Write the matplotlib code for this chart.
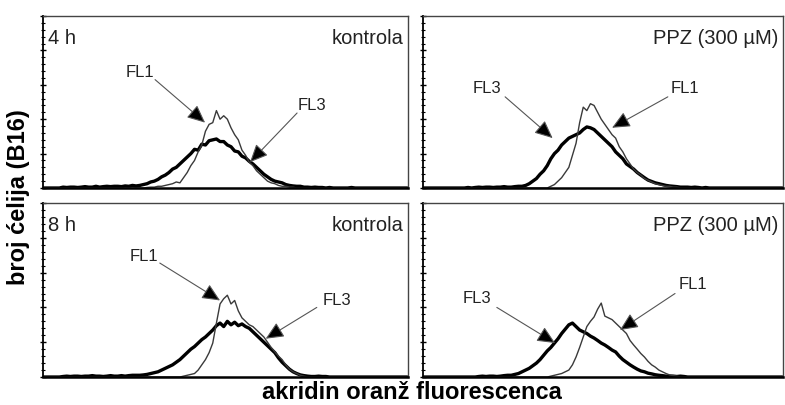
import numpy as np
import matplotlib
matplotlib.use("Agg")
import matplotlib.pyplot as plt
from matplotlib.ticker import MultipleLocator

plt.rcParams['font.family'] = ['Liberation Sans', 'DejaVu Sans']

# ===== DATA (histogram counts per channel) =====
channels = np.arange(100) + 0.5

fl1_4h_kontrola = [0, 0, 0, 0, 0, 0, 0, 0, 0, 0,
                   0, 0, 0, 0, 0, 0, 0, 0, 0, 0,
                   0, 0, 0, 0, 0, 0, 0, 0, 0.3, 0.5,
                   0.5, 1, 1, 1.5, 2, 2.5, 3.5, 3, 6, 9,
                   13, 16, 21, 25, 33, 37, 38, 45, 40, 42,
                   40, 35, 31, 28, 22, 19, 15, 13, 10, 8,
                   6, 4, 3, 2.5, 1.5, 1, 1, 0.5, 0.5, 0,
                   0, 0, 0, 0, 0, 0, 0, 0, 0, 0,
                   0, 0, 0, 0, 0, 0, 0, 0, 0, 0,
                   0, 0, 0, 0, 0, 0, 0, 0, 0, 0]
fl3_4h_kontrola = [0, 0, 0, 0, 0, 0.5, 0.3, 0.5, 0.5, 0.3,
                   0.5, 0.8, 0.5, 0.5, 1, 0.5, 0.8, 1, 0.8, 1,
                   1, 0.8, 1.2, 1, 1.5, 1.2, 1.5, 2, 2.5, 3.5,
                   4, 5, 6.5, 7.5, 9, 11, 12, 14, 16, 18,
                   20, 22.5, 22, 25.5, 25, 27.5, 28, 28.5, 27, 27,
                   25, 24, 21.5, 21, 18.5, 17.5, 15.5, 14, 12, 10,
                   8, 6.5, 5, 4, 3.5, 3, 2, 1.5, 1.2, 1,
                   1, 0.5, 0.5, 0.3, 0.5, 0.3, 0.3, 0, 0.3, 0,
                   0, 0, 0, 0, 0.3, 0, 0, 0, 0, 0,
                   0, 0, 0, 0, 0, 0, 0, 0, 0, 0]

fl1_4h_ppz = [0, 0, 0, 0, 0, 0, 0, 0, 0, 0,
              0, 0, 0, 0, 0, 0, 0, 0, 0, 0,
              0, 0, 0, 0, 0, 0, 0, 0, 0, 0,
              0, 0, 0, 0, 0, 1, 2, 4, 6, 9,
              12, 19, 26, 38, 47, 45, 49, 48, 44, 40,
              37, 34, 31, 29, 24, 21, 17, 14, 11, 9,
              7.5, 5.5, 4.5, 3.5, 2.5, 2, 1.5, 1, 1, 0.5,
              0.5, 0, 0, 0, 0, 0, 0, 0, 0, 0,
              0, 0, 0, 0, 0, 0, 0, 0, 0, 0,
              0, 0, 0, 0, 0, 0, 0, 0, 0, 0]
fl3_4h_ppz = [0, 0, 0, 0, 0, 0, 0, 0, 0, 0,
              0, 0, 0.3, 0, 0.3, 0.5, 0.3, 0.5, 0.5, 0.3,
              0.5, 0.5, 0.8, 0.5, 0.5, 0.8, 1, 1, 1.5, 2.5,
              4, 5.5, 8, 10, 13, 17, 20, 22, 25, 27,
              29, 30, 31, 32, 34, 35.5, 35, 34, 32, 30,
              28, 26, 24, 21, 19, 17, 14, 12.5, 11, 9,
              7.5, 6, 4.6, 3.8, 3, 2.5, 2, 1.5, 1.2, 1,
              0.8, 0.5, 0.5, 0.5, 0.3, 0.5, 0.3, 0, 0.3, 0,
              0, 0, 0, 0, 0, 0, 0, 0, 0, 0,
              0, 0, 0, 0, 0, 0, 0, 0, 0, 0]

fl1_8h_kontrola = [0, 0, 0, 0, 0, 0, 0, 0, 0, 0,
                   0, 0, 0, 0, 0, 0, 0, 0, 0, 0,
                   0, 0, 0, 0, 0, 0, 0, 0, 0, 0,
                   0, 0, 0, 0, 0, 0, 0, 0, 0.5, 1,
                   1.5, 2, 4, 7, 10, 14, 19.5, 31, 42, 45,
                   47, 42, 44, 38, 34, 32, 30, 29, 27, 25,
                   23, 20, 17, 14.5, 12, 10, 7, 4.5, 3, 2,
                   1, 0.5, 0, 0, 0, 0, 0, 0, 0, 0,
                   0, 0, 0, 0, 0, 0, 0, 0, 0, 0,
                   0, 0, 0, 0, 0, 0, 0, 0, 0, 0]
fl3_8h_kontrola = [0, 0, 0, 0, 0, 0.3, 0.5, 0.3, 0.5, 0.5,
                   0.3, 0.5, 0.5, 0.8, 0.5, 0.5, 0.3, 0.5, 0.8, 0.5,
                   0.5, 0.8, 0.5, 0.8, 1, 1, 1, 1.2, 1.5, 2,
                   2.5, 3, 4, 5, 6, 7, 8.5, 10, 12, 14,
                   16, 17.5, 19.5, 21.5, 23, 25, 27, 29.5, 31, 29,
                   32, 30, 31.5, 29.5, 30.5, 29, 28, 26, 24, 22,
                   20, 18, 16, 14, 11, 8.5, 6.5, 4.5, 3, 2,
                   1.2, 0.8, 0.5, 0.3, 0.3, 0.5, 0.3, 0.3, 0, 0,
                   0, 0, 0, 0, 0, 0, 0, 0, 0, 0,
                   0, 0, 0, 0, 0, 0, 0, 0, 0, 0]

fl1_8h_ppz = [0, 0, 0, 0, 0, 0, 0, 0, 0, 0,
              0, 0, 0, 0, 0, 0, 0, 0, 0, 0,
              0, 0, 0, 0, 0, 0, 0, 0, 0, 0,
              0, 0, 0, 0, 0, 0.5, 1, 1.5, 2, 3,
              4, 7, 11.5, 17, 23, 29, 32, 34.5, 39, 42.5,
              35, 34, 33, 31, 29, 27, 25, 21, 18.4, 16,
              13.5, 11.5, 9, 7, 5.7, 4, 3, 2, 1.2, 0.8,
              0.5, 0, 0, 0, 0, 0, 0, 0, 0, 0,
              0, 0, 0, 0, 0, 0, 0, 0, 0, 0,
              0, 0, 0, 0, 0, 0, 0, 0, 0, 0]
fl3_8h_ppz = [0, 0, 0, 0, 0, 0, 0, 0, 0, 0,
              0, 0, 0, 0, 0, 0.3, 0.5, 0.3, 0.5, 0.5,
              0.3, 0.5, 0.8, 1, 1, 1.5, 2, 3, 4, 5,
              6.5, 8, 10, 12.5, 15, 17, 19.5, 22, 25, 27.5,
              30, 31, 29, 27, 26, 25, 23.5, 22.4, 21, 19.5,
              18.4, 17, 15.5, 14.4, 12, 10, 8.5, 7, 5.7, 4.5,
              3.5, 3, 2.2, 1.8, 1.3, 1, 0.8, 0.5, 0.5, 0.5,
              0.3, 0.5, 0.3, 0, 0, 0, 0, 0, 0, 0,
              0, 0, 0, 0, 0, 0, 0, 0, 0, 0,
              0, 0, 0, 0, 0, 0, 0, 0, 0, 0]

time_labels = ['4 h', '', '8 h', '']
treat_labels = ['kontrola', 'PPZ (300 µM)', 'kontrola', 'PPZ (300 µM)']
fl1_all = [fl1_4h_kontrola, fl1_4h_ppz, fl1_8h_kontrola, fl1_8h_ppz]
fl3_all = [fl3_4h_kontrola, fl3_4h_ppz, fl3_8h_kontrola, fl3_8h_ppz]

# annotation: (label, text xy, arrow start, arrow tip) in data coords
notes = [
    [('FL1', (26.6, 67), (30.7, 63), (44.4, 38)),
     ('FL3', (73.7, 47.7), (69.6, 43.6), (56.7, 15))],
    [('FL3', (17.8, 58), (22.8, 53), (36, 29)),
     ('FL1', (72.8, 58), (68, 53), (52.5, 35))],
    [('FL1', (27.7, 69), (32, 65.5), (48.5, 44)),
     ('FL3', (80.5, 44), (75, 40), (61, 22))],
    [('FL3', (15, 45), (20.5, 40), (36.7, 19.5)),
     ('FL1', (75, 53), (70, 48), (54.7, 27))],
]

# ===== FIGURE =====
fig = plt.figure(figsize=(7.85, 4.05), dpi=100)

boxes = [[0.0548, 0.5358, 0.4650, 0.4247],
         [0.5389, 0.5358, 0.4586, 0.4247],
         [0.0548, 0.0691, 0.4650, 0.4296],
         [0.5389, 0.0691, 0.4586, 0.4296]]

for k in range(4):
    ax = fig.add_axes(boxes[k])
    ax.plot(channels, fl3_all[k], color='black', lw=2.4)
    ax.plot(channels, fl1_all[k], color='#3a3a3a', lw=1.0)
    ax.set_xlim(0, 100)
    ax.set_ylim(0, 100)

    ax.set_xticks([])
    ax.set_yticks(np.arange(0, 101, 20))
    ax.yaxis.set_minor_locator(MultipleLocator(4))
    ax.tick_params(axis='y', which='major', direction='inout', length=5, width=1.0, labelleft=False)
    ax.tick_params(axis='y', which='minor', direction='inout', length=3, width=0.8)

    ax.spines['left'].set_linewidth(1.3)
    ax.spines['bottom'].set_linewidth(1.8)
    for s in ['top', 'right']:
        ax.spines[s].set_linewidth(1.0)
        ax.spines[s].set_color('#444444')

    if time_labels[k]:
        ax.text(0.013, 0.925, time_labels[k], transform=ax.transAxes,
                ha='left', va='top', fontsize=14.5, color='#222222')
    ax.text(0.988, 0.925, treat_labels[k], transform=ax.transAxes,
            ha='right', va='top', fontsize=14.5, color='#222222')

    for lab, txy, start, tip in notes[k]:
        ax.text(txy[0], txy[1], lab, ha='center', va='center', fontsize=12, color='#222222')
        ax.annotate('', xy=tip, xytext=start,
                    arrowprops=dict(arrowstyle='-|>,head_length=1.1,head_width=0.5',
                                    fc='black', ec='#555555', lw=0.8,
                                    shrinkA=0, shrinkB=0))

fig.text(0.023, 0.513, 'broj ćelija (B16)', rotation=90, ha='center', va='center',
         fontsize=17, fontweight='bold')
fig.text(0.525, 0.032, 'akridin oranž fluorescenca', ha='center', va='center',
         fontsize=17, fontweight='bold')

fig.savefig('out.png', dpi=100)
